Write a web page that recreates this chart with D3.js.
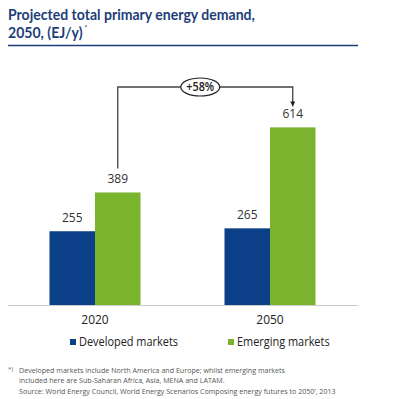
<!DOCTYPE html>
<html>
<head>
<meta charset="utf-8">
<script src="https://cdn.jsdelivr.net/npm/d3@7"></script>
<style>
  body { margin: 0; background: #fff; }
  svg { display: block; font-family: "Open Sans", "Noto Sans", sans-serif; }
</style>
</head>
<body>
<div id="chart"></div>
<script>
const years = ['2020', '2050'];
const seriesNames = ['Developed markets', 'Emerging markets'];
const developed = [255, 265];
const emerging = [389, 614];
const growthLabel = '+58%';
const footnotes = [
    'Developed markets include North America and Europe; whilst emerging markets',
    'included here are Sub-Saharan Africa, Asia, MENA and LATAM.',
    'Source: World Energy Council, World Energy Scenarios Composing energy futures to 2050\u2019, 2013'
];

const colors = ['#0b3f88', '#7ab32e'];
const titleColor = '#1d3e78';

const width = 400, height = 399;
const baseY = 305;

const data = years.map((year, i) => ({
    year: year,
    values: [developed[i], emerging[i]]
}));

// squeeze a text node horizontally by a ratio (reference font is narrower)
const squeeze = (node, ratio) => {
    const w = node.getComputedTextLength();
    d3.select(node)
        .attr('textLength', w * ratio)
        .attr('lengthAdjust', 'spacingAndGlyphs');
    return w;
}

const svg = d3.select('#chart').append('svg')
    .attr('width', width)
    .attr('height', height);

// title: one text, two lines, narrowed with a horizontal scale
const title = svg.append('text')
    .attr('fill', titleColor)
    .attr('font-family', 'Lato, "Open Sans", sans-serif')
    .attr('font-weight', 700)
    .attr('font-size', 14.8);
const line1 = title.append('tspan').attr('x', 0).attr('y', 20)
    .text('Projected total primary energy demand,');
title.append('tspan').attr('x', 0).attr('y', 38.2)
    .text('2050, (EJ/y)');
title.append('tspan').attr('dy', -7).attr('dx', 2)
    .attr('font-size', 7).attr('font-weight', 400)
    .text('*');
const titleRatio = 247 / line1.node().getComputedTextLength();
title.attr('transform', 'translate(8,0) scale(' + titleRatio + ',1)');

svg.append('line')
    .attr('x1', 8).attr('x2', 358)
    .attr('y1', 45.5).attr('y2', 45.5)
    .attr('stroke', titleColor).attr('stroke-width', 1.5);

// scales
const x = d3.scaleBand()
    .domain(years)
    .range([7.5, 357.5])
    .paddingInner(0.48)
    .paddingOuter(0.24);
const xInner = d3.scaleBand()
    .domain(d3.range(seriesNames.length))
    .range([0, x.bandwidth()]);
const y = d3.scaleLinear()
    .domain([0, 700])
    .range([baseY, baseY - 202.5]);

// bars
const groups = svg.selectAll('g.group')
    .data(data)
    .enter().append('g')
        .attr('class', 'group')
        .attr('transform', d => 'translate(' + x(d.year) + ',0)');

groups.selectAll('rect')
    .data(d => d.values)
    .enter().append('rect')
        .attr('x', (d, i) => xInner(i))
        .attr('y', d => y(d))
        .attr('width', xInner.bandwidth())
        .attr('height', d => baseY - y(d))
        .attr('fill', (d, i) => colors[i]);

groups.selectAll('text.value')
    .data(d => d.values)
    .enter().append('text')
        .attr('class', 'value')
        .attr('x', (d, i) => xInner(i) + xInner.bandwidth() / 2)
        .attr('y', d => y(d) - 9)
        .attr('text-anchor', 'middle')
        .attr('font-size', 12)
        .attr('fill', '#333')
        .text(d => d);

// baseline
svg.append('line')
    .attr('x1', 8).attr('x2', 358)
    .attr('y1', baseY + 0.5).attr('y2', baseY + 0.5)
    .attr('stroke', '#ccc').attr('stroke-width', 1);

// category labels
svg.selectAll('text.cat')
    .data(years)
    .enter().append('text')
        .attr('class', 'cat')
        .attr('x', d => x(d) + x.bandwidth() / 2)
        .attr('y', 324)
        .attr('text-anchor', 'middle')
        .attr('font-size', 12)
        .attr('fill', '#222')
        .text(d => d);

// growth annotation
const fromX = x(years[0]) + xInner(1) + xInner.bandwidth() / 2;
const toX = x(years[1]) + xInner(1) + xInner.bandwidth() / 2;
const topY = 87;
const fromY = y(emerging[0]) - 24;
const toY = y(emerging[1]) - 21;

svg.append('defs').append('marker')
    .attr('id', 'arrow')
    .attr('viewBox', '0 0 10 10')
    .attr('refX', 10).attr('refY', 5)
    .attr('markerWidth', 5).attr('markerHeight', 5)
    .attr('markerUnits', 'userSpaceOnUse')
    .attr('orient', 'auto')
    .append('path').attr('d', 'M0,0L10,5L0,10Z').attr('fill', '#222');

svg.append('path')
    .attr('d', d3.line()([[fromX, fromY], [fromX, topY], [toX, topY], [toX, toY]]))
    .attr('fill', 'none')
    .attr('stroke', '#444')
    .attr('stroke-width', 1.3)
    .attr('marker-end', 'url(#arrow)');

const midX = (fromX + toX) / 2 - 5;
svg.append('ellipse')
    .attr('cx', midX).attr('cy', topY)
    .attr('rx', 19.5).attr('ry', 9)
    .attr('fill', '#fff')
    .attr('stroke', '#222').attr('stroke-width', 1.2);
const growth = svg.append('text')
    .attr('x', midX).attr('y', topY + 4)
    .attr('text-anchor', 'middle')
    .attr('font-size', 12)
    .attr('font-weight', 600)
    .attr('fill', '#222')
    .text(growthLabel);
squeeze(growth.node(), 0.9);

// legend
const legendX = [70, 228];
const legend = svg.selectAll('g.legend')
    .data(seriesNames)
    .enter().append('g')
        .attr('class', 'legend')
        .attr('transform', (d, i) => 'translate(' + legendX[i] + ',339)');
legend.append('rect')
    .attr('width', 6).attr('height', 6)
    .attr('fill', (d, i) => colors[i]);
const legendText = legend.append('text')
    .attr('x', 9).attr('y', 6.5)
    .attr('font-size', 13)
    .attr('fill', '#222')
    .text(d => d);
const legendRatio = 99 / legendText.node().getComputedTextLength();
legendText.each(function() { squeeze(this, legendRatio); });

// footnotes
svg.append('text')
    .attr('x', 8).attr('y', 371)
    .attr('font-size', 6)
    .attr('fill', '#666')
    .text('*)');
const notes = svg.selectAll('text.note')
    .data(footnotes)
    .enter().append('text')
        .attr('class', 'note')
        .attr('x', 19)
        .attr('y', (d, i) => 373 + i * 10.3)
        .attr('font-size', 8)
        .attr('fill', '#555')
        .text(d => d);
const noteRatio = 266 / notes.node().getComputedTextLength();
notes.each(function() { squeeze(this, noteRatio); });
</script>
</body>
</html>
